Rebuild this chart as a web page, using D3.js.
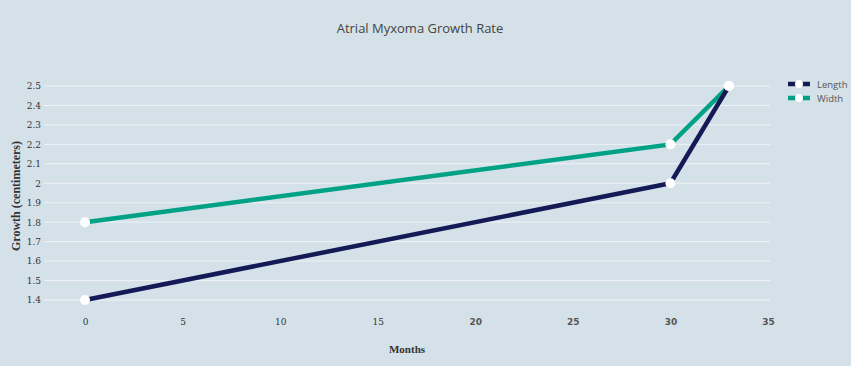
<!DOCTYPE html>
<html>
<head>
<meta charset="utf-8">
<script src="https://cdn.jsdelivr.net/npm/d3@7"></script>
<style>
  body { margin: 0; background: #d5e1e9; }
  svg { display: block; }
</style>
</head>
<body>
<script>
var months = [0, 30, 33];
var lengthVals = [1.4, 2.0, 2.5];
var widthVals = [1.8, 2.2, 2.5];
var seriesNames = ["Length", "Width"];
var colors = ["#131a55", "#00a286"];
var xTicks = [0, 5, 10, 15, 20, 25, 30, 35];
var yTicks = [1.4, 1.5, 1.6, 1.7, 1.8, 1.9, 2, 2.1, 2.2, 2.3, 2.4, 2.5];

var w = 851, h = 366;
var svg = d3.select("body").append("svg")
  .attr("width", w)
  .attr("height", h);

svg.append("rect").attr("width", w).attr("height", h).attr("fill", "#d5e1e9");

var x = d3.scaleLinear().domain([0, 35]).range([85, 768]);
var y = d3.scaleLinear().domain([1.4, 2.5]).range([300, 86]);

// title
svg.append("text")
  .attr("x", 420).attr("y", 33)
  .attr("text-anchor", "middle")
  .attr("font-family", "Open Sans, sans-serif")
  .attr("font-size", "13px")
  .attr("fill", "#444")
  .text("Atrial Myxoma Growth Rate");

// grid
svg.append("g").selectAll("line")
  .data(yTicks)
  .enter().append("line")
  .attr("x1", 44).attr("x2", 770)
  .attr("y1", function(d) { return y(d); })
  .attr("y2", function(d) { return y(d); })
  .attr("stroke", "#eef3f7")
  .attr("stroke-width", 1);

// y axis
var yAxis = svg.append("g")
  .attr("transform", "translate(44,0)")
  .call(d3.axisLeft(y).tickValues(yTicks).tickSize(0).tickPadding(3).tickFormat(d3.format("")));
yAxis.select(".domain").remove();
yAxis.selectAll("text")
  .attr("font-family", "DejaVu Serif, serif")
  .attr("font-size", "9px")
  .attr("fill", "#333");

// x axis
var xAxis = svg.append("g")
  .attr("transform", "translate(0,316)")
  .call(d3.axisBottom(x).tickValues(xTicks).tickSize(0).tickPadding(3));
xAxis.select(".domain").remove();
xAxis.selectAll("text")
  .attr("font-family", function(d) { return d < 20 ? "DejaVu Serif, serif" : "DejaVu Sans, sans-serif"; })
  .attr("font-weight", function(d) { return d < 20 ? "normal" : "bold"; })
  .attr("font-size", "9px")
  .attr("fill", function(d) { return d < 20 ? "#333" : "#555"; });

// axis titles
svg.append("text")
  .attr("x", 407).attr("y", 353)
  .attr("text-anchor", "middle")
  .attr("font-family", "Liberation Serif, serif")
  .attr("font-weight", "bold")
  .attr("font-size", "11px")
  .attr("fill", "#333")
  .text("Months");

svg.append("text")
  .attr("transform", "translate(20,196) rotate(-90)")
  .attr("text-anchor", "middle")
  .attr("font-family", "Liberation Serif, serif")
  .attr("font-weight", "bold")
  .attr("font-size", "12px")
  .attr("fill", "#333")
  .text("Growth (centimeters)");

// lines
var series = [lengthVals, widthVals];
var line = d3.line()
  .x(function(d, i) { return x(months[i]); })
  .y(function(d) { return y(d); });

// width first so length sits on top at the shared end point
[1, 0].forEach(function(s) {
  svg.append("path")
    .datum(series[s])
    .attr("d", line)
    .attr("fill", "none")
    .attr("stroke", colors[s])
    .attr("stroke-width", 4.5);
});
[1, 0].forEach(function(s) {
  svg.append("g").selectAll("circle")
    .data(series[s])
    .enter().append("circle")
    .attr("cx", function(d, i) { return x(months[i]); })
    .attr("cy", function(d) { return y(d); })
    .attr("r", 5)
    .attr("fill", "#fff");
});

// legend
var legend = svg.append("g").selectAll("g")
  .data(seriesNames)
  .enter().append("g")
  .attr("transform", function(d, i) { return "translate(788," + (84 + i * 14) + ")"; });
legend.append("line")
  .attr("x1", 0).attr("x2", 22)
  .attr("stroke", function(d, i) { return colors[i]; })
  .attr("stroke-width", 4.5);
legend.append("circle")
  .attr("cx", 11).attr("r", 4)
  .attr("fill", "#fff");
legend.append("text")
  .attr("x", 29).attr("y", 3.5)
  .attr("font-family", "Open Sans, sans-serif")
  .attr("font-size", "9.5px")
  .attr("fill", "#555")
  .text(function(d) { return d; });
</script>
</body>
</html>
